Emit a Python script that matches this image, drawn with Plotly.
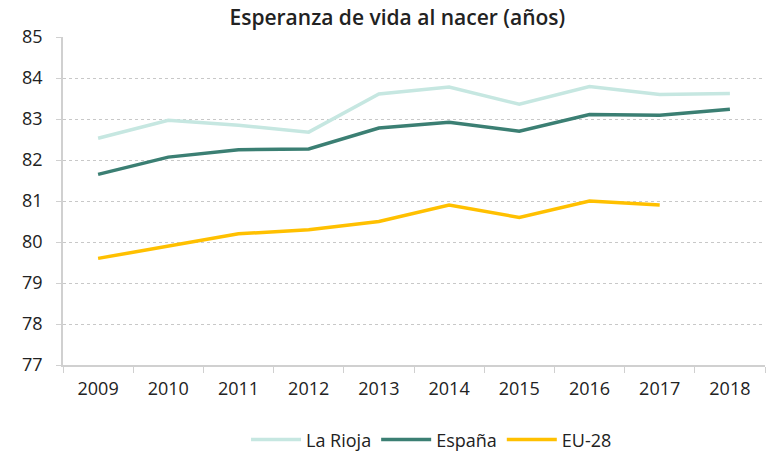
import plotly.graph_objects as go

years = ["2009", "2010", "2011", "2012", "2013", "2014", "2015", "2016", "2017", "2018"]
la_rioja = [82.53, 82.97, 82.85, 82.68, 83.61, 83.78, 83.36, 83.79, 83.60, 83.62]
espana = [81.65, 82.07, 82.25, 82.27, 82.78, 82.92, 82.70, 83.11, 83.09, 83.24]
eu28 = [79.6, 79.9, 80.2, 80.3, 80.5, 80.9, 80.6, 81.0, 80.9]

series = [("La Rioja", la_rioja, "#c6e7e1"), ("España", espana, "#3b7f73"), ("EU-28", eu28, "#ffc000")]

fig = go.Figure()
for name, vals, col in series:
    fig.add_trace(go.Scatter(x=years[:len(vals)], y=vals, mode="lines", name=name,
                             line=dict(color=col, width=3.5)))

font = "Open Sans"
fig.update_layout(
    width=767, height=452,
    margin=dict(l=63, r=2, t=37, b=87),
    plot_bgcolor="white", paper_bgcolor="white",
    font=dict(family=font, size=18, color="#222222"),
    title=dict(text="Esperanza de vida al nacer (años)", x=0.518, xanchor="center", y=0.96, yanchor="middle",
               automargin=False, font=dict(size=21, color="#222222", weight=600)),
    showlegend=True,
    legend=dict(orientation="h", x=0.525, xanchor="center", y=0.027, yanchor="middle", yref="container",
                font=dict(size=18), traceorder="normal", itemwidth=50),
    xaxis=dict(type="category", range=[-0.5, 9.5], showgrid=False, showline=True, linecolor="#d0d0d0",
               linewidth=1.5, ticks="outside", tickson="boundaries", ticklen=6, tickcolor="#d0d0d0",
               tickfont=dict(size=18), automargin=False, ticklabelstandoff=7),
    yaxis=dict(range=[77, 85], dtick=1, showgrid=True, gridcolor="#c8c8c8", griddash="dot", gridwidth=1,
               showline=True, linecolor="#d0d0d0", linewidth=1.5, ticks="outside", ticklen=5,
               tickcolor="#d0d0d0", zeroline=False, tickfont=dict(size=18), automargin=False,
               ticklabelstandoff=10),
)
fig.write_html("out.html", config={"displayModeBar": False},
               post_script="document.body.style.margin='0';document.body.style.overflow='hidden';")
